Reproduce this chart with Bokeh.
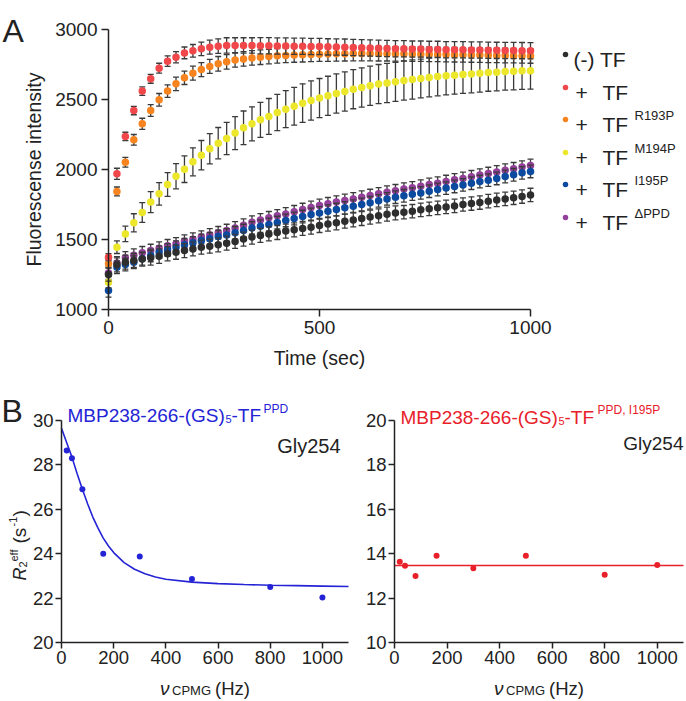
import numpy as np
from bokeh.plotting import figure
from bokeh.models import Range1d, Label, FixedTicker
from bokeh.layouts import column, row
from bokeh.embed import file_html
from bokeh.resources import INLINE

# ---------------- data: panel A ----------------
time_s = list(range(0, 1001, 20))

no_tf = [1250, 1319, 1338, 1350, 1360, 1369, 1381, 1398, 1409, 1421, 1433, 1445, 1452, 1462, 1474, 1486, 1503,
         1517, 1529, 1540, 1550, 1560, 1569, 1579, 1588, 1600, 1610, 1619, 1631, 1640, 1650, 1660, 1669, 1681,
         1690, 1695, 1702, 1712, 1719, 1726, 1733, 1740, 1750, 1757, 1764, 1774, 1783, 1790, 1798, 1807, 1818]
tf_wt = [1374, 1969, 2236, 2421, 2560, 2648, 2724, 2774, 2802, 2833, 2848, 2862, 2874, 2881, 2886, 2886, 2886,
         2886, 2884, 2884, 2882, 2882, 2880, 2880, 2878, 2878, 2876, 2875, 2874, 2872, 2870, 2868, 2866, 2864,
         2862, 2862, 2860, 2860, 2858, 2858, 2856, 2856, 2855, 2854, 2853, 2852, 2851, 2850, 2850, 2849, 2848]
tf_r193p = [1326, 1843, 2052, 2212, 2326, 2421, 2498, 2560, 2612, 2655, 2688, 2714, 2736, 2755, 2769, 2783, 2790,
            2797, 2802, 2807, 2812, 2815, 2818, 2820, 2822, 2824, 2825, 2826, 2827, 2828, 2828, 2828, 2827, 2827,
            2826, 2826, 2825, 2824, 2823, 2822, 2821, 2820, 2819, 2818, 2817, 2816, 2815, 2814, 2813, 2812, 2811]
tf_m194p = [1195, 1445, 1540, 1619, 1693, 1767, 1826, 1893, 1952, 2002, 2055, 2102, 2148, 2188, 2221, 2260, 2298,
            2326, 2355, 2379, 2407, 2431, 2452, 2474, 2493, 2510, 2526, 2543, 2557, 2574, 2586, 2598, 2610, 2618,
            2626, 2636, 2643, 2650, 2657, 2664, 2669, 2674, 2679, 2683, 2688, 2693, 2695, 2700, 2702, 2705, 2706]
tf_i195p = [1136, 1302, 1321, 1338, 1362, 1386, 1410, 1426, 1445, 1462, 1476, 1493, 1505, 1521, 1533, 1548, 1564,
            1583, 1595, 1607, 1621, 1636, 1650, 1664, 1679, 1690, 1702, 1714, 1726, 1738, 1750, 1762, 1776, 1790,
            1802, 1812, 1824, 1833, 1845, 1857, 1867, 1879, 1890, 1902, 1914, 1924, 1936, 1950, 1962, 1976, 1986]
tf_dppd = [1260, 1333, 1369, 1388, 1405, 1421, 1438, 1455, 1469, 1488, 1502, 1517, 1533, 1548, 1564, 1583, 1602,
           1624, 1640, 1655, 1669, 1683, 1698, 1714, 1729, 1743, 1755, 1767, 1779, 1790, 1802, 1814, 1826, 1838,
           1848, 1860, 1869, 1881, 1893, 1902, 1914, 1926, 1936, 1948, 1960, 1971, 1983, 1995, 2005, 2017, 2029]

no_tf_err = [48, 50, 50, 50, 50, 52, 52, 50, 50, 50, 50, 50, 50, 50, 50, 50, 50, 50, 50, 50, 50, 50, 50, 50, 50,
             50, 50, 50, 50, 50, 50, 50, 50, 50, 50, 48, 48, 48, 48, 48, 48, 48, 48, 48, 48, 48, 48, 48, 48, 48, 48]
tf_wt_err = [25, 40, 30, 30, 30, 32, 35, 38, 40, 42, 45, 48, 50, 52, 55, 55, 55, 55, 58, 58, 58, 58, 58, 58, 58,
             58, 58, 58, 58, 58, 58, 58, 58, 58, 58, 58, 58, 58, 58, 58, 58, 58, 58, 58, 58, 58, 58, 58, 58, 58, 58]
tf_r193p_err = [30, 32, 35, 38, 40, 42, 45, 45, 48, 48, 50, 50, 50, 52, 52, 52, 52, 52, 52, 52, 52, 52, 52, 52,
                52, 52, 52, 52, 52, 52, 52, 52, 52, 52, 52, 52, 52, 52, 52, 52, 52, 52, 52, 52, 52, 52, 52, 52,
                52, 52, 52]
tf_m194p_err = [40, 45, 55, 65, 70, 75, 80, 85, 90, 95, 100, 105, 108, 112, 115, 118, 120, 122, 125, 128, 130,
                132, 135, 138, 140, 140, 140, 140, 140, 140, 140, 140, 140, 140, 140, 140, 140, 138, 138, 138,
                136, 136, 135, 135, 135, 134, 134, 133, 133, 132, 132]
tf_i195p_err = [48, 45, 45, 45, 45, 45, 45, 45, 45, 45, 45, 45, 45, 45, 45, 45, 45, 45, 45, 45, 45, 45, 45, 45,
                45, 45, 45, 45, 45, 45, 45, 45, 45, 45, 45, 45, 45, 45, 45, 45, 45, 45, 45, 45, 45, 45, 45, 45,
                45, 45, 45]
tf_dppd_err = [45, 45, 45, 45, 45, 45, 45, 45, 45, 45, 45, 45, 45, 45, 45, 45, 45, 45, 45, 45, 45, 45, 45, 45,
               45, 45, 45, 45, 45, 45, 45, 45, 45, 45, 45, 45, 45, 45, 45, 45, 45, 45, 45, 45, 45, 45, 45, 45,
               45, 45, 45]

legend_main = ["(-) TF", "TF", "TF", "TF", "TF", "TF"]
legend_sup = [None, None, "R193P", "M194P", "I195P", "\u0394PPD"]

top_xticks = [0, 500, 1000]
top_yticks = [1000, 1500, 2000, 2500, 3000]

# ---------------- data: panel B ----------------
nu_cpmg = [20, 40, 80, 160, 300, 500, 800, 1000]
r2_ppd = [28.65, 28.3, 26.9, 24.0, 23.87, 22.86, 22.5, 22.03]
r2_ppd_i195p = [13.64, 13.46, 13.0, 13.91, 13.35, 13.91, 13.05, 13.49]

fit_ppd_x = [0, 20, 40, 60, 80, 100, 120, 140, 160, 180, 200, 240, 280, 320, 360, 400, 500, 600, 700, 800, 900,
             1000, 1100]
fit_ppd_y = [29.65, 29.0, 28.35, 27.6, 26.9, 26.25, 25.65, 25.15, 24.7, 24.35, 24.05, 23.6, 23.3, 23.1, 22.95,
             22.85, 22.72, 22.65, 22.61, 22.58, 22.56, 22.54, 22.52]
fit_i195p_x = [0, 1100]
fit_i195p_y = [13.47, 13.47]

b_xticks = [0, 200, 400, 600, 800, 1000]
bl_yticks = [20, 22, 24, 26, 28, 30]
br_yticks = [10, 12, 14, 16, 18, 20]

# ---------------- style ----------------
FONT = "Liberation Sans"
INK = "#222222"
ERR = "#3a3a3a"
COLORS = {
    "black": "#2e2e2e", "red": "#f0474a", "orange": "#f7841e",
    "yellow": "#ede72b", "blue": "#0c4aa0", "purple": "#94409a",
}
legend_colors = [COLORS["black"], COLORS["red"], COLORS["orange"], COLORS["yellow"], COLORS["blue"],
                 COLORS["purple"]]
BLUE_B = "#2424d6"
RED_B = "#e8202a"


class Geo:
    """Maps page pixels to data coordinates for a figure whose frame fills the whole canvas."""

    def __init__(self, fl, ft, w, h, px_a, dx_a, px_b, dx_b, py_a, dy_a, py_b, dy_b):
        self.fl, self.ft, self.w, self.h = fl, ft, w, h
        self.sx = (px_b - px_a) / (dx_b - dx_a)
        self.sy = (py_a - py_b) / (dy_b - dy_a)
        self.px_a, self.dx_a, self.py_a, self.dy_a = px_a, dx_a, py_a, dy_a
        self.x_range = Range1d(self.xd(fl), self.xd(fl + w))
        self.y_range = Range1d(self.yd(ft + h), self.yd(ft))

    def xd(self, X):
        return self.dx_a + (X - self.px_a) / self.sx

    def yd(self, Y):
        return self.dy_a + (self.py_a - Y) / self.sy


def make_fig(g):
    p = figure(width=g.w, height=g.h, x_range=g.x_range, y_range=g.y_range,
               output_backend="svg", toolbar_location=None,
               min_border=0, min_border_left=0, min_border_right=0, min_border_top=0, min_border_bottom=0)
    p.grid.visible = False
    p.outline_line_color = None
    return p


def style_axes(p, tick_out, standoff, size, xloc, yloc, xb, yb):
    for ax in (p.xaxis, p.yaxis):
        ax.axis_line_color = INK
        ax.axis_line_width = 1.5
        ax.major_tick_line_color = INK
        ax.major_tick_line_width = 1.5
        ax.major_tick_out = tick_out
        ax.major_tick_in = 0
        ax.minor_tick_line_color = None
        ax.major_label_text_font = FONT
        ax.major_label_text_font_size = size
        ax.major_label_text_color = INK
        ax.major_label_standoff = standoff
    p.xaxis.fixed_location = xloc
    p.yaxis.fixed_location = yloc
    p.xaxis.bounds = xb
    p.yaxis.bounds = yb


def add_text(p, g, X, Y, text, size, color=INK, align="left", baseline="alphabetic",
             style="normal", angle=0.0, font=FONT):
    p.add_layout(Label(x=g.xd(X), y=g.yd(Y), text=text, text_font=font,
                       text_font_size=f"{size}px", text_color=color, text_align=align,
                       text_baseline=baseline, text_font_style=style, angle=angle))


# ---------------- panel A ----------------
GA = Geo(0, 0, 686, 378, 108, 0, 530, 1000, 309, 1000, 29, 3000)
pa = make_fig(GA)
style_axes(pa, 7, 4, "19px", 1000, 0, (0, 1000), (1000, 3000))
pa.xaxis.ticker = FixedTicker(ticks=top_xticks)
pa.yaxis.ticker = FixedTicker(ticks=top_yticks)

draw_order = [
    (tf_dppd, tf_dppd_err, COLORS["purple"]),
    (tf_i195p, tf_i195p_err, COLORS["blue"]),
    (tf_m194p, tf_m194p_err, COLORS["yellow"]),
    (tf_r193p, tf_r193p_err, COLORS["orange"]),
    (tf_wt, tf_wt_err, COLORS["red"]),
    (no_tf, no_tf_err, COLORS["black"]),
]
for vals, err, col in draw_order:
    v = np.array(vals, dtype=float)
    e = np.array(err, dtype=float)
    pa.segment(x0=time_s, y0=v - e, x1=time_s, y1=v + e, line_color=ERR, line_width=1.3)
    pa.scatter(time_s, v - e, marker="dash", size=6, line_color=ERR, line_width=1.3)
    pa.scatter(time_s, v + e, marker="dash", size=6, line_color=ERR, line_width=1.3)
    pa.scatter(time_s, v, size=7.5, fill_color=col, line_color=None)

add_text(pa, GA, 319, 357, "Time (sec)", 19.5, align="center", baseline="middle")
add_text(pa, GA, 33, 169, "Fluorescense intensity", 19.5, align="center", baseline="middle",
         angle=np.pi / 2)
add_text(pa, GA, 2, 30, "A", 32)

# legend
row_y = [52, 85, 117, 150, 182, 215]
leg_dot_x = [GA.xd(565)] * len(row_y)
leg_dot_y = [GA.yd(y + 2) for y in row_y]
pa.scatter(leg_dot_x, leg_dot_y, size=5.5, fill_color=legend_colors, line_color=None)
for i, cy in enumerate(row_y):
    if i == 0:
        add_text(pa, GA, 573, cy + 7, legend_main[i], 21)
    else:
        add_text(pa, GA, 575, cy + 7, "+", 21)
        add_text(pa, GA, 602, cy + 7, legend_main[i], 21)
    if legend_sup[i]:
        add_text(pa, GA, 634, cy - 2, legend_sup[i], 13)

# ---------------- panel B (left) ----------------
GL = Geo(0, 378, 353, 323, 61, 0, 348, 1100, 642, 20, 420, 30)
pl = make_fig(GL)
style_axes(pl, 6, 2, "18.5px", 20, 0, (0, 1100), (20, 30))
pl.xaxis.ticker = FixedTicker(ticks=b_xticks)
pl.yaxis.ticker = FixedTicker(ticks=bl_yticks)
pl.line(fit_ppd_x, fit_ppd_y, line_color=BLUE_B, line_width=1.6)
pl.scatter(nu_cpmg, r2_ppd, size=6, fill_color=BLUE_B, line_color=None)

add_text(pl, GL, 67, 415, "MBP238-266-(GS)", 19, color=BLUE_B)
add_text(pl, GL, 225, 418, "5", 11, color=BLUE_B)
add_text(pl, GL, 231, 415, "-TF", 19, color=BLUE_B)
add_text(pl, GL, 263, 408, "PPD", 12, color=BLUE_B)
add_text(pl, GL, 340, 445, "Gly254", 20, align="right")
add_text(pl, GL, 1, 410, "B", 32)

ang = np.pi / 2
add_text(pl, GL, 19, 580, "R", 18, style="italic", angle=ang)
add_text(pl, GL, 22, 567, "2", 11, angle=ang)
add_text(pl, GL, 13, 561, "eff", 11, angle=ang)
add_text(pl, GL, 19, 543, "(s", 19, angle=ang)
add_text(pl, GL, 12, 526, "-1", 11, angle=ang)
add_text(pl, GL, 19, 516, ")", 19, angle=ang)

cxl = (61 + 348) / 2
add_text(pl, GL, cxl - 45, 688, "\u03bd", 19, style="italic")
add_text(pl, GL, cxl - 33, 690, "CPMG", 13)
add_text(pl, GL, cxl + 10, 688, "(Hz)", 18.5)

# ---------------- panel B (right) ----------------
GR = Geo(353, 378, 333, 323, 394, 0, 683, 1100, 642, 10, 420, 20)
pr = make_fig(GR)
style_axes(pr, 6, 2, "18.5px", 10, 0, (0, 1100), (10, 20))
pr.xaxis.ticker = FixedTicker(ticks=b_xticks)
pr.yaxis.ticker = FixedTicker(ticks=br_yticks)
pr.line(fit_i195p_x, fit_i195p_y, line_color=RED_B, line_width=1.6)
pr.scatter(nu_cpmg, r2_ppd_i195p, size=6, fill_color=RED_B, line_color=None)

add_text(pr, GR, 400, 417, "MBP238-266-(GS)", 19, color=RED_B)
add_text(pr, GR, 558, 420, "5", 11, color=RED_B)
add_text(pr, GR, 564, 417, "-TF", 19, color=RED_B)
add_text(pr, GR, 597, 409, "PPD, I195P", 12, color=RED_B)
add_text(pr, GR, 683, 443, "Gly254", 19, align="right")

cxr = (394 + 683) / 2
add_text(pr, GR, cxr - 45, 688, "\u03bd", 19, style="italic")
add_text(pr, GR, cxr - 33, 690, "CPMG", 13)
add_text(pr, GR, cxr + 10, 688, "(Hz)", 18.5)

layout = column(pa, row(pl, pr))
open("out.html", "w").write(file_html(layout, INLINE))
